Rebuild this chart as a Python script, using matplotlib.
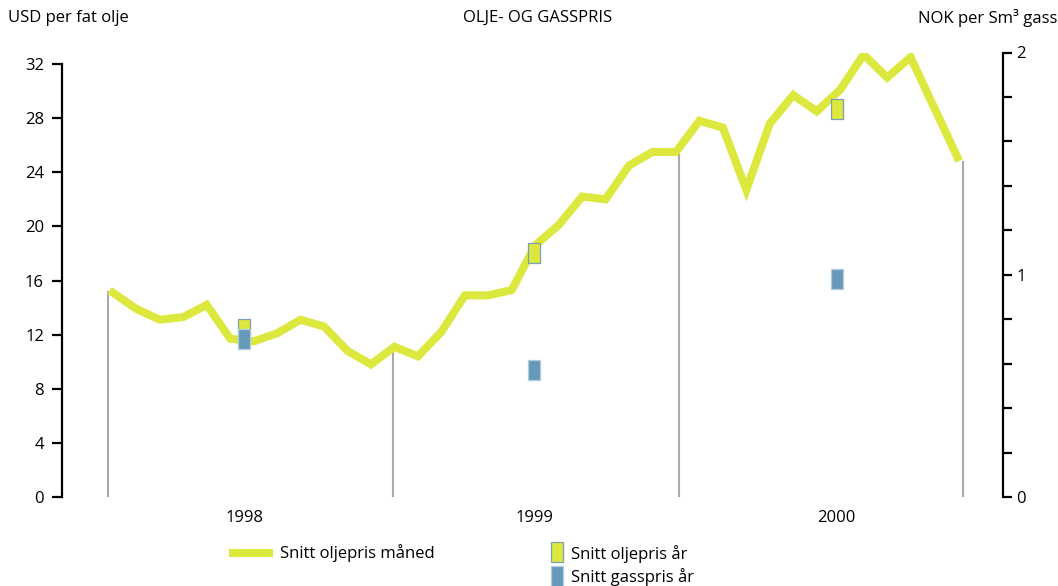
import matplotlib
matplotlib.use('Agg')
import matplotlib.pyplot as plt
from matplotlib.lines import Line2D
from matplotlib.patches import Rectangle
from matplotlib.ticker import MultipleLocator

plt.rcParams['font.family'] = ['Open Sans', 'DejaVu Sans']
plt.rcParams['font.size'] = 12

# monthly oil price (USD per barrel), Jan 1998 - Dec 2000
# month index; the December 2000 point sits one step further out in the original
month_pos = list(range(35)) + [36]
oil_monthly = [15.1, 13.9, 13.1, 13.3, 14.2, 11.7, 11.5, 12.1, 13.1, 12.6, 10.8, 9.8,
               11.1, 10.4, 12.2, 14.9, 14.9, 15.3, 18.6, 20.1, 22.2, 22.0, 24.5, 25.5,
               25.5, 27.8, 27.3, 22.7, 27.6, 29.7, 28.5, 30.1, 32.7, 31.0, 32.5, 25.1]

# yearly averages
years = ['1998', '1999', '2000']
year_pos = [5.6, 17.95, 30.85]
oil_yearly = [12.4, 18.0, 28.65]   # USD per fat
gas_yearly = [0.71, 0.57, 0.98]    # NOK per Sm3

# grey year separators (month index, height)
sep_pos = [-0.2, 11.95, 24.15, 36.25]
sep_top = [15.2, 10.9, 25.5, 24.8]

YELLOW = '#dde83e'
BLUE = '#6699b8'
GREY = '#aaaaaa'

W, H = 1058, 586
fig = plt.figure(figsize=(W / 100, H / 100), dpi=100)
ax = fig.add_axes([62 / W, 89 / H, 941 / W, 444.5 / H])
ax2 = ax.twinx()

box = [(-0.3, -0.5), (0.3, -0.5), (0.3, 0.5), (-0.3, 0.5), (-0.3, -0.5)]

ax.vlines(sep_pos, 0, sep_top, colors=GREY, lw=1.5, zorder=1)
ax.plot(month_pos, oil_monthly, color=YELLOW, lw=5.8, solid_joinstyle='miter', zorder=2)
ax.plot(year_pos, oil_yearly, ls='none', marker=box, ms=14.4,
        mfc=YELLOW, mec='#7d9fb6', mew=0.9, zorder=3)
ax2.plot(year_pos, gas_yearly, ls='none', marker=box, ms=14.4,
         mfc=BLUE, mec='#b0cde0', mew=0.9, zorder=3)

ax.set_xlim(-2.17, 37.94)
ax.set_ylim(0, 32.85)
ax2.set_ylim(0, 2)

# left axis
ax.set_yticks(range(0, 33, 4))
ax.spines['left'].set_bounds(0, 32)
ax.spines['left'].set_linewidth(1.6)
ax.tick_params(axis='y', direction='out', length=7, width=1.6, pad=6)
for s in ['top', 'right', 'bottom']:
    ax.spines[s].set_visible(False)

# x labels
ax.set_xticks(year_pos, years)
ax.tick_params(axis='x', length=0, pad=9)

# right axis
for s in ['top', 'left', 'bottom']:
    ax2.spines[s].set_visible(False)
ax2.spines['right'].set_linewidth(1.6)
ax2.set_yticks([0, 1, 2])
ax2.yaxis.set_minor_locator(MultipleLocator(0.2))
ax2.tick_params(axis='y', which='both', direction='out', length=6.5, width=1.6, pad=3)

# titles
fig.text(8 / W, 1 - 18 / H, 'USD per fat olje', ha='left', va='center')
fig.text(538 / W, 1 - 18 / H, 'OLJE- OG GASSPRIS', ha='center', va='center')
fig.text(1057 / W, 1 - 18 / H, 'NOK per Sm³ gass', ha='right', va='center')

# legend
fig.add_artist(Line2D([233 / W, 269 / W], [1 - 553 / H, 1 - 553 / H],
                      color=YELLOW, lw=5.8, transform=fig.transFigure))
fig.text(280 / W, 1 - 553 / H, 'Snitt oljepris måned', ha='left', va='center')
fig.add_artist(Rectangle((551 / W, 1 - 562 / H), 12 / W, 20 / H, facecolor=YELLOW,
                         edgecolor='#7d9fb6', lw=0.9, transform=fig.transFigure))
fig.text(571 / W, 1 - 554 / H, 'Snitt oljepris år', ha='left', va='center')
fig.add_artist(Rectangle((551 / W, 1 - 587 / H), 12 / W, 21 / H, facecolor=BLUE,
                         edgecolor='#b0cde0', lw=0.9, transform=fig.transFigure))
fig.text(571 / W, 1 - 577 / H, 'Snitt gasspris år', ha='left', va='center')

fig.savefig('out.png', dpi=100)
